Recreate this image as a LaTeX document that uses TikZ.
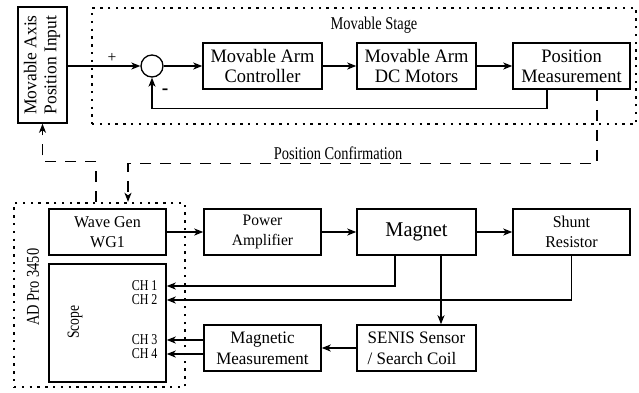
\documentclass[tikz,border=0pt]{standalone}
\usepackage{fontspec}
\setmainfont{Liberation Serif}
\newfontfamily\boxfont[FakeStretch=0.97]{Liberation Serif}
\newfontfamily\narrowfont[FakeStretch=0.8]{Liberation Serif}
\usetikzlibrary{positioning,arrows.meta}

\begin{document}
\begin{tikzpicture}[x=1pt,y=-1pt,
  blk/.style={draw,line width=1.5pt,inner sep=0pt,align=center,font=\boxfont\fontsize{19}{20}\selectfont},
  dotbox/.style={draw,line width=2.4pt,dash pattern=on 2.4pt off 5.4pt,inner sep=0pt},
  arr/.style={line width=1.3pt,-{Stealth[length=9pt,width=7pt,inset=2.5pt]}},
  dasharr/.style={arr,dash pattern=on 11pt off 9pt},
  lbl/.style={font=\narrowfont\fontsize{18}{20}\selectfont}]
  \useasboundingbox (0,0) rectangle (639,392);
  % Movable stage
  \node[dotbox,minimum width=544pt,minimum height=116pt] (stage) at (364,66) {};
  \node[lbl] (stagelbl) at (374,25) {Movable Stage};
  \node[blk,minimum width=49pt,minimum height=116pt] (axisin) at (42.5,65)
    {\rotatebox{90}{\boxfont\fontsize{18}{20}\selectfont\begin{tabular}{@{}c@{}}Movable Axis\\Position Input\end{tabular}}};
  \node[draw,circle,line width=1.3pt,minimum size=22pt,inner sep=0pt] (sum) at (152,66) {};
  \node[blk,minimum width=119pt,minimum height=46pt] (ctrl) at (262.5,66) {Movable Arm\\Controller};
  \node[blk,minimum width=119pt,minimum height=46pt] (motors) at (416.5,66) {Movable Arm\\DC Motors};
  \node[blk,minimum width=117pt,minimum height=46pt] (posmeas) at (571.5,66) {Position\\Measurement};
  \node[font=\boxfont\fontsize{16}{16}\selectfont] (plus) at (112,58) {+};
  \node[font=\boxfont\bfseries\fontsize{20}{20}\selectfont] (minus) at (165,92) {-};
  \draw[arr] (axisin.east |- sum) -- (sum.west);
  \draw[arr] (sum) -- (ctrl);
  \draw[arr] (ctrl) -- (motors);
  \draw[arr] (motors) -- (posmeas);
  \draw[arr] ([xshift=-24.5pt]posmeas.south) -- ++(0,19) -| (sum.south);
  % AD Pro 3450
  \node[dotbox,minimum width=171pt,minimum height=184pt] (adpro) at (99.5,295) {};
  \node[lbl,rotate=90] (adprolbl) at (33,287) {AD Pro 3450};
  \node[blk,minimum width=117pt,minimum height=46pt,font=\boxfont\fontsize{16.5}{20}\selectfont] (wavegen) at (107.5,232) {Wave Gen\\WG1};
  \node[blk,minimum width=117pt,minimum height=118pt] (scope) at (107.5,323) {};
  \node[lbl,rotate=90,font=\narrowfont\fontsize{17}{20}\selectfont] (scopelbl) at (75,322) {Scope};
  \node[lbl,anchor=east,font=\narrowfont\fontsize{15}{15}\selectfont] (ch1) at (161,286) {CH 1};
  \node[lbl,anchor=east,font=\narrowfont\fontsize{15}{15}\selectfont] (ch2) at (161,300) {CH 2};
  \node[lbl,anchor=east,font=\narrowfont\fontsize{15}{15}\selectfont] (ch3) at (161,340) {CH 3};
  \node[lbl,anchor=east,font=\narrowfont\fontsize{15}{15}\selectfont] (ch4) at (161,354) {CH 4};
  % Magnet chain
  \node[blk,minimum width=117pt,minimum height=46pt,font=\boxfont\fontsize{16}{20}\selectfont] (poweramp) at (262.5,232) {Power\\Amplifier};
  \node[blk,minimum width=119pt,minimum height=46pt,font=\boxfont\fontsize{21}{20}\selectfont] (magnet) at (416.5,232) {Magnet};
  \node[blk,minimum width=117pt,minimum height=46pt,font=\boxfont\fontsize{16.5}{20}\selectfont] (shunt) at (571.5,232) {Shunt\\Resistor};
  \node[blk,minimum width=117pt,minimum height=46pt,font=\boxfont\fontsize{17.5}{21}\selectfont] (magmeas) at (262.5,348) {Magnetic\\Measurement};
  \node[blk,minimum width=119pt,minimum height=46pt,align=left,font=\boxfont\fontsize{17.5}{21}\selectfont] (senis) at (416.5,348) {SENIS Sensor\\/ Search Coil};
  \draw[arr] (wavegen) -- (poweramp);
  \draw[arr] (poweramp) -- (magnet);
  \draw[arr] (magnet) -- (shunt);
  \draw[arr] ([xshift=-21.5pt]magnet.south) |- (scope.east |- ch1);
  \draw[arr] (shunt.south) |- (scope.east |- ch2);
  \draw[arr] ([xshift=24.5pt]magnet.south) -- ([xshift=24.5pt]senis.north);
  \draw[arr] (senis) -- (magmeas);
  \draw[arr] (magmeas.west |- ch3) -- (scope.east |- ch3);
  \draw[arr] (magmeas.west |- ch4) -- (scope.east |- ch4);
  % position confirmation
  \draw[dasharr] ([xshift=25.5pt]posmeas.south) -- ++(0,74) -| ([xshift=28.5pt]adpro.north);
  \node[lbl] (conflbl) at (338,153) {Position Confirmation};
  \draw[dasharr] ([xshift=-3.5pt]adpro.north) -- ++(0,-40) -| (axisin.south);
\end{tikzpicture}
\end{document}
